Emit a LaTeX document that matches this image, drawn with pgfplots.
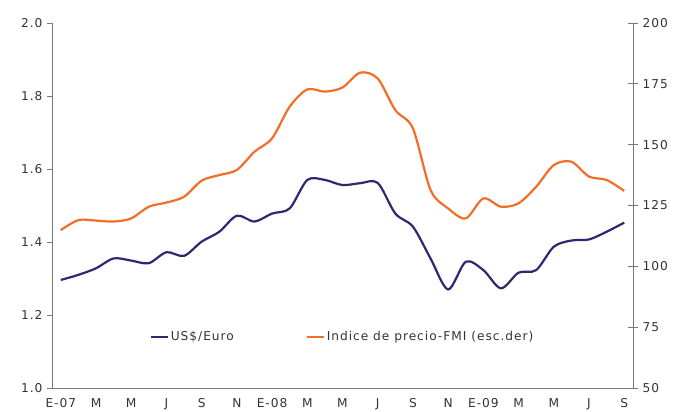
\documentclass[border=0pt]{standalone}
\usepackage{fontspec}
\setmainfont{DejaVu Sans}[LetterSpace=8]
\usepackage{pgfplots}
\pgfplotsset{compat=1.18}
\definecolor{navy}{RGB}{46,40,112}
\definecolor{orng}{RGB}{242,110,40}
\definecolor{axgray}{RGB}{120,120,120}
\pgfplotstableread{
i usd
0 1.296
1 1.310
2 1.328
3 1.355
4 1.349
5 1.342
6 1.372
7 1.362
8 1.401
9 1.428
10 1.472
11 1.456
12 1.478
13 1.492
14 1.570
15 1.570
16 1.556
17 1.561
18 1.562
19 1.478
20 1.442
21 1.355
22 1.270
23 1.346
24 1.323
25 1.273
26 1.316
27 1.323
28 1.387
29 1.404
30 1.407
31 1.428
32 1.453
}\usdtable
\pgfplotstableread{
i fmi
0 114.9
1 119.0
2 118.8
3 118.4
4 119.7
5 124.5
6 126.2
7 128.6
8 135.2
9 137.5
10 139.6
11 147.1
12 152.6
13 165.6
14 172.7
15 171.8
16 173.5
17 179.6
18 177.2
19 164.2
20 156.7
21 131.4
22 123.8
23 119.7
24 127.9
25 124.5
26 125.9
27 132.7
28 141.6
29 143.0
30 136.9
31 135.5
32 131.0
}\fmitable
\begin{document}
\begin{tikzpicture}[font=\fontsize{12.2}{14}\selectfont]
\pgfplotsset{
  base/.style={
    scale only axis, width=581pt, height=365pt,
    xmin=-0.5, xmax=32.5,
    axis line style={axgray, line width=0.9pt},
    every tick/.style={axgray, line width=0.9pt},
    tick label style={font=\fontsize{12.2}{14}\selectfont, text=black!80},
    /pgf/number format/assume math mode=true,
  }
}
\begin{axis}[base, name=ax,
  axis x line*=bottom, axis y line*=left,
  ymin=1.0, ymax=2.0, ytick={1.0,1.2,...,2.0},
  yticklabel style={xshift=-1pt, /pgf/number format/.cd, fixed, fixed zerofill, precision=1},
  tick align=outside, major tick length=5pt,
  xtick={0,2,...,32},
  xticklabels={E-07,M,M,J,S,N,E-08,M,M,J,S,N,E-09,M,M,J,S},
  x tick style={draw=none},
  minor xtick={-0.5,0.5,...,32.5},
  minor x tick style={axgray, line width=0.9pt},
  minor tick length=4pt,
  xticklabel style={yshift=-2pt},
  legend style={draw=none, fill=none, at={(rel axis cs:0.168,0.14)}, anchor=west,
    legend columns=2, font=\fontsize{12.2}{14}\selectfont, text=black!80,
    /tikz/every even column/.append style={column sep=70pt},
    inner xsep=0pt},
  legend image code/.code={\draw[#1, line width=2pt] (0pt,0pt) -- (17pt,0pt);},
]
\addplot[navy, line width=2.2pt, smooth, tension=0.5] table[x=i, y=usd] {\usdtable};
\addlegendentry{US\$/Euro}
\addlegendimage{orng, line width=2.2pt}
\addlegendentry{Indice de precio-FMI (esc.der)}
\end{axis}
\begin{axis}[base,
  axis x line=none, axis y line*=right,
  ymin=50, ymax=200, ytick={50,75,...,200},
  tick align=center, major tick length=10pt,
  yticklabel style={xshift=1pt},
]
\addplot[orng, line width=2.2pt, smooth, tension=0.5] table[x=i, y=fmi] {\fmitable};
\end{axis}
\pgfresetboundingbox
\path (ax.south west) ++(-52pt,-24pt) rectangle ++(673pt,412pt);
\end{tikzpicture}
\end{document}
